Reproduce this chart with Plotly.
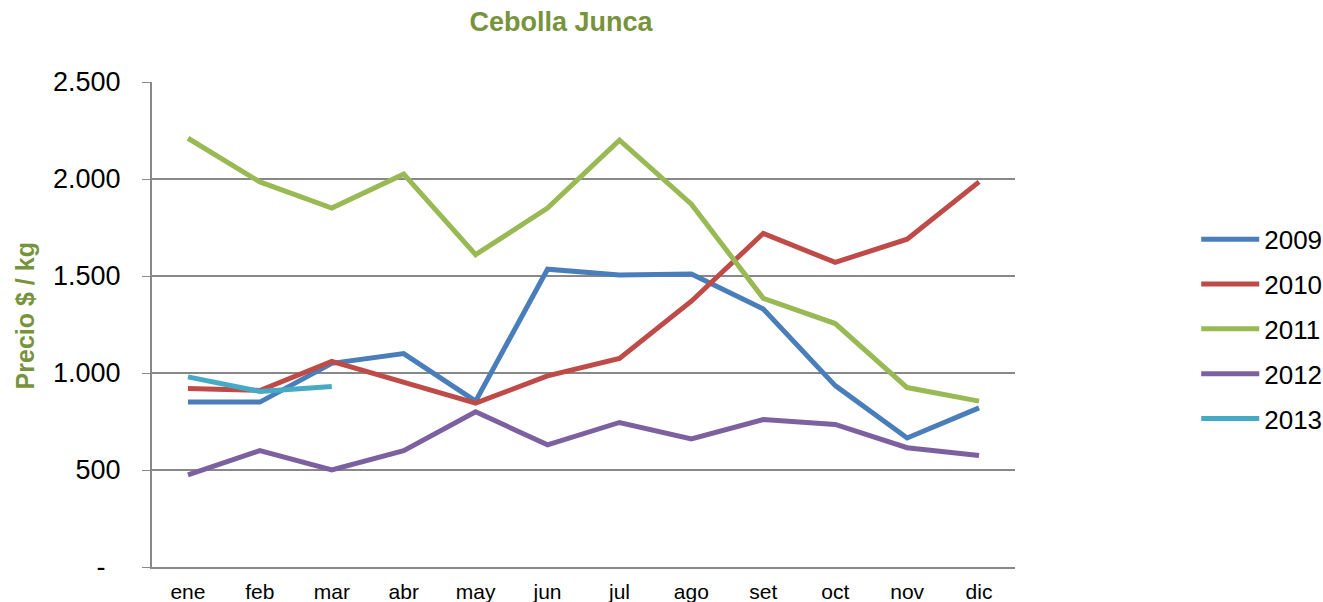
import plotly.graph_objects as go

months = ["ene", "feb", "mar", "abr", "may", "jun", "jul", "ago", "set", "oct", "nov", "dic"]

p2009 = [850, 850, 1050, 1100, 855, 1535, 1505, 1510, 1330, 935, 665, 820]
p2010 = [920, 910, 1060, 950, 845, 985, 1075, 1370, 1720, 1570, 1690, 1985]
p2011 = [2210, 1985, 1850, 2025, 1610, 1850, 2200, 1870, 1385, 1255, 925, 855]
p2012 = [475, 600, 500, 600, 800, 630, 745, 660, 760, 735, 615, 575]
p2013 = [980, 905, 930]

y_ticks = [0, 500, 1000, 1500, 2000, 2500]
# excel accounting style: zero shown as a dash with trailing padding
y_labels = ["-\u00a0\u00a0", "500", "1.000", "1.500", "2.000", "2.500"]

series = [
    ("2009", p2009, "#4A7EBB"),
    ("2010", p2010, "#BE4B48"),
    ("2011", p2011, "#98B954"),
    ("2012", p2012, "#7D60A0"),
    ("2013", p2013, "#46AAC5"),
]

fig = go.Figure()
for name, vals, color in series:
    fig.add_trace(go.Scatter(
        x=months[:len(vals)],
        y=vals,
        mode="lines",
        name=name,
        legendgroup=name,
        line=dict(color=color, width=5),
    ))

fig.update_layout(
    width=1323,
    height=602,
    margin=dict(l=152, r=308, t=82, b=35, autoexpand=False),
    paper_bgcolor="white",
    plot_bgcolor="white",
    font=dict(family="Liberation Sans, Arial, sans-serif", color="black"),
    title=dict(
        text="<b>Cebolla Junca</b>",
        font=dict(size=27, color="#77933C"),
        x=0.424, xanchor="center",
        y=0.965, yanchor="middle",
    ),
    legend=dict(
        x=1.21, xanchor="left",
        y=0.49, yanchor="middle",
        font=dict(size=26),
        traceorder="grouped",
        tracegroupgap=8,
        itemwidth=58,
    ),
    # y axis title placed by hand so it sits near the left edge
    annotations=[dict(
        text="<b>Precio $ / kg</b>",
        textangle=-90,
        xref="paper", yref="paper",
        x=-0.147, y=0.517,
        xanchor="center", yanchor="middle",
        showarrow=False,
        font=dict(size=25, color="#77933C"),
    )],
)

fig.update_xaxes(
    type="category",
    categoryorder="array",
    categoryarray=months,
    range=[-0.5, 11.5],
    showline=True, linecolor="#888888", linewidth=2,
    showgrid=False,
    ticks="",
    ticklabelstandoff=5,
    tickfont=dict(size=21),
)

fig.update_yaxes(
    range=[0, 2500],
    tickvals=y_ticks,
    ticktext=y_labels,
    showline=True, linecolor="#888888", linewidth=2,
    showgrid=True, gridcolor="#888888", gridwidth=2,
    ticks="outside", ticklen=8, tickcolor="#888888",
    ticklabelstandoff=16,
    tickfont=dict(size=27),
    zeroline=False,
)

# drop the default body margin so the figure fills the window exactly
fig.write_html("out.html", config={"displayModeBar": False},
               post_script="document.body.style.margin='0';")
